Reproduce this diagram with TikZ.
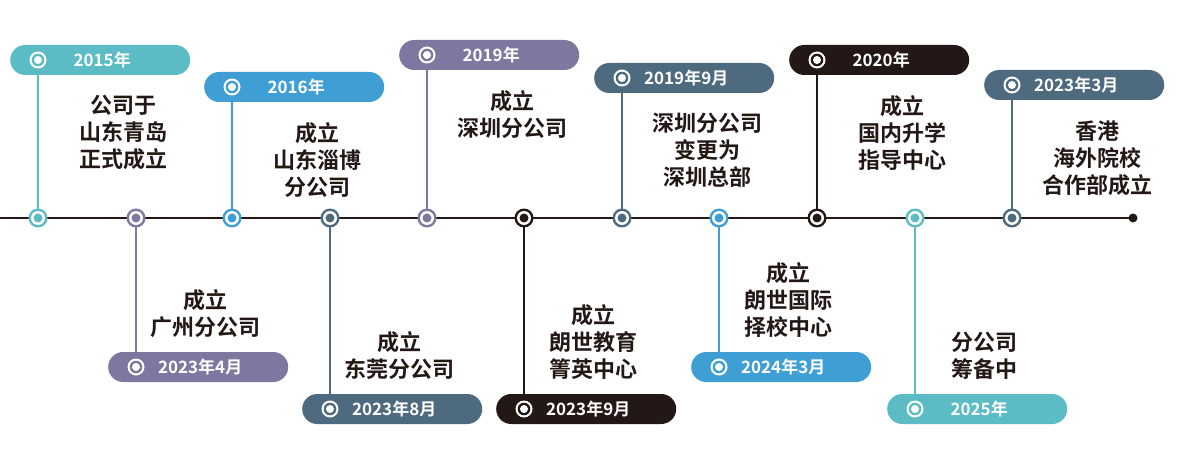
\documentclass[tikz,border=0pt]{standalone}
\usepackage{fontspec}
\setmainfont{Noto Sans CJK SC}[BoldFont={Noto Sans CJK SC Bold}]
\usetikzlibrary{positioning}
\definecolor{cteal}{HTML}{5BBCC6}
\definecolor{cblue}{HTML}{3F9FD5}
\definecolor{cpurple}{HTML}{7D789F}
\definecolor{cslate}{HTML}{4E6A7F}
\definecolor{cblack}{HTML}{231815}
\tikzset{
  pill/.style={rounded corners=15, minimum width=180, minimum height=30, inner sep=0,
    anchor=west, text=white, font=\bfseries\fontsize{17}{17}\selectfont},
  info/.style={align=center, inner sep=0, font=\bfseries\fontsize{22}{27}\selectfont, text=cblack},
  stem/.style={line width=2.6},
}
\begin{document}
\begin{tikzpicture}[x=1pt,y=1pt,yscale=-1,xscale=1]
\useasboundingbox (0,0) rectangle (1177,454);

% axis
\coordinate (axL) at (0,218);
\coordinate (axR) at (1133,218);
\draw [cblack, line width=2.4] (axL) -- (axR);
\fill [cblack] (axR) circle (4.5);

% top events: x / pill y / colour / year / name / text
\foreach \x/\py/\c/\yr/\n/\txt in {
  38/60/cteal/2015年/a/{公司于\\山东青岛\\正式成立},
  232/87/cblue/2016年/b/{成立\\山东淄博\\分公司},
  427/55/cpurple/2019年/c/{成立\\深圳分公司},
  622/78/cslate/2019年9月/d/{深圳分公司\\变更为\\深圳总部},
  817/60/cblack/2020年/e/{成立\\国内升学\\指导中心},
  1012/85/cslate/2023年3月/f/{香港\\海外院校\\合作部成立}}{
  \coordinate (dot\n) at (\x,218);
  \coordinate (ico\n) at (\x,\py);
  \draw [stem, \c] (ico\n) -- (dot\n);
  \node [pill, fill=\c] (pill\n) at (\x-28,\py) {\hspace*{4pt}\yr};
  \node [info, anchor=north] (txt\n) at ([xshift=113,yshift=20]pill\n.south west) {\txt};
  \fill [white] (ico\n) circle (8.5);
  \fill [\c] (ico\n) circle (6.3);
  \fill [white] (ico\n) circle (4);
  \fill [\c] (dot\n) circle (9.5);
  \fill [white] (dot\n) circle (7);
  \fill [\c] (dot\n) circle (4.5);
}

% bottom events
\foreach \x/\py/\c/\yr/\n/\txt in {
  136/367/cpurple/2023年4月/g/{成立\\广州分公司},
  330/409/cslate/2023年8月/h/{成立\\东莞分公司},
  524/409/cblack/2023年9月/i/{成立\\朗世教育\\箐英中心},
  719/367/cblue/2024年3月/j/{成立\\朗世国际\\择校中心},
  915/409/cteal/2025年/k/{分公司\\筹备中}}{
  \coordinate (dot\n) at (\x,218);
  \coordinate (ico\n) at (\x,\py);
  \draw [stem, \c] (dot\n) -- (ico\n);
  \node [pill, fill=\c] (pill\n) at (\x-28,\py) {\hspace*{4pt}\yr};
  \node [info, anchor=south] (txt\n) at ([xshift=97,yshift=-14]pill\n.north west) {\txt};
  \fill [white] (ico\n) circle (8.5);
  \fill [\c] (ico\n) circle (6.3);
  \fill [white] (ico\n) circle (4);
  \fill [\c] (dot\n) circle (9.5);
  \fill [white] (dot\n) circle (7);
  \fill [\c] (dot\n) circle (4.5);
}
\end{tikzpicture}
\end{document}
